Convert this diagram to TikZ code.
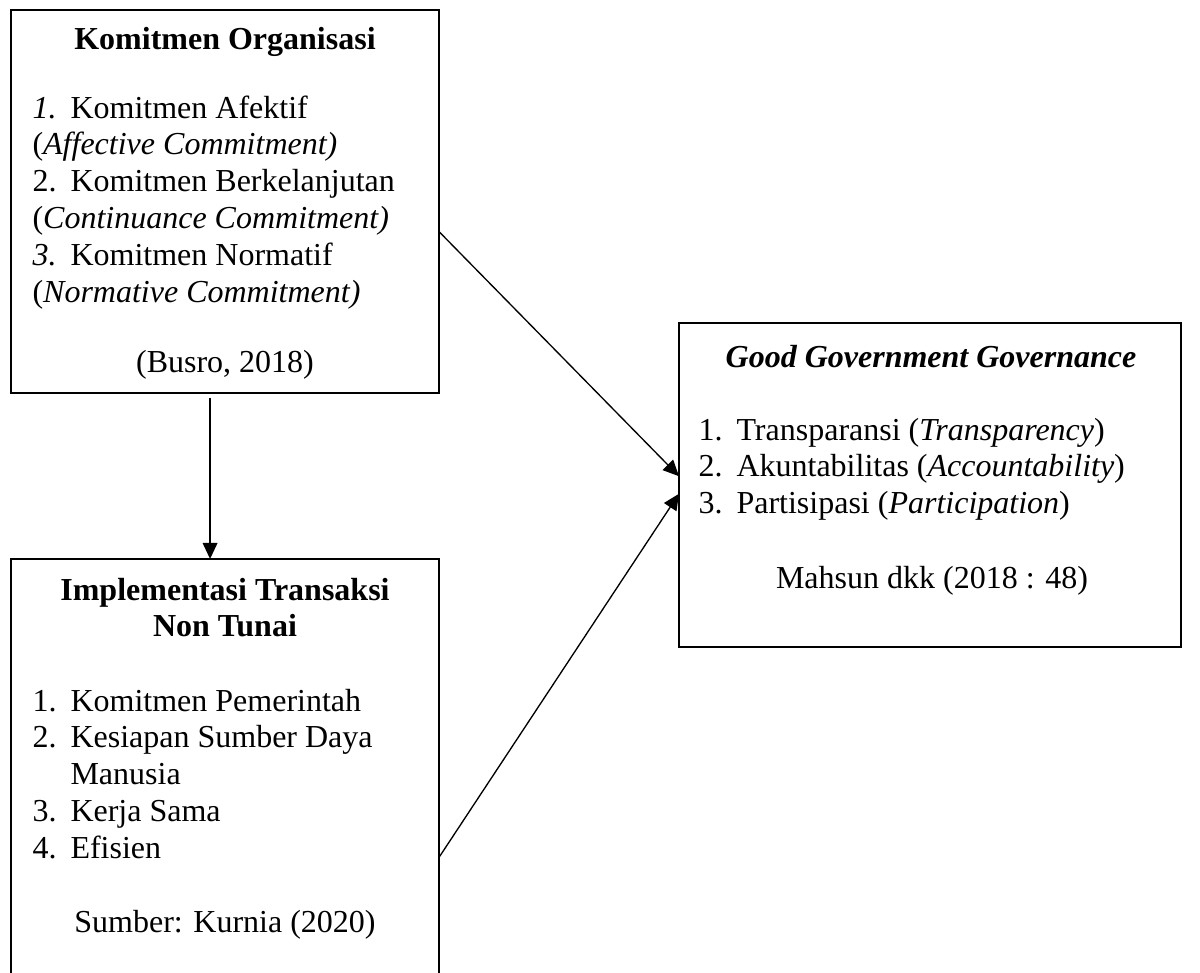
\documentclass[tikz,border=0pt]{standalone}
\usepackage{fontspec}
\setmainfont{Liberation Serif}
\usepackage{tikz}
\usetikzlibrary{arrows.meta,positioning}

\tikzset{
  kotak/.style={draw, rectangle, line width=0.9pt, outer sep=0pt},
  judul/.style={font=\fontsize{12pt}{13.8pt}\selectfont\bfseries, anchor=base, inner sep=0pt},
  daftar/.style={font=\fontsize{12pt}{13.8pt}\selectfont, anchor=base west, inner sep=0pt},
  sumber/.style={font=\fontsize{12pt}{13.8pt}\selectfont, anchor=base, inner sep=0pt},
  panah/.style={-{Triangle[length=6pt,width=5.5pt]}, line width=0.5pt}
}
\newcommand{\nomor}[1]{\makebox[14.25pt][l]{#1}}
\newcommand{\baris}[2][l]{\begin{tabular}[t]{@{}#1@{}}#2\end{tabular}}

\begin{document}
\begin{tikzpicture}[x=0.375pt, y=-0.375pt]
    \clip (0,0) rectangle (1200,972);
    % kotak variabel
    \node [kotak, minimum width=160.5pt, minimum height=143.6pt] (org) at (225,201.5) {};
    \node [kotak, minimum width=160.5pt, minimum height=165.4pt] (impl) at (225,779.5) {};
    \node [kotak, minimum width=188.25pt, minimum height=121.5pt] (ggg) at (930,485) {};

    % komitmen organisasi
    \node [judul] (orgjudul) at (225,49) {Komitmen Organisasi};
    \node [daftar] (orgdaftar) at (32,118) {\baris{\nomor{\textit{1.}}Komitmen Afektif\\(\textit{Affective Commitment)}\\\nomor{2.}Komitmen Berkelanjutan\\(\textit{Continuance Commitment)}\\\nomor{\textit{3.}}Komitmen Normatif\\(\textit{Normative Commitment)}}};
    \node [sumber] (orgsumber) at (225,372) {(Busro, 2018)};

    % implementasi transaksi non tunai
    \node [judul] (impljudul) at (225,600) {\baris[c]{Implementasi Transaksi\\Non Tunai}};
    \node [daftar] (impldaftar) at (32,711) {\baris{\nomor{1.}Komitmen Pemerintah\\\nomor{2.}Kesiapan Sumber Daya\\\nomor{}Manusia\\\nomor{3.}Kerja Sama\\\nomor{4.}Efisien}};
    \node [sumber] (implsumber) at (225,932) {Sumber: Kurnia (2020)};

    % good government governance
    \node [judul] (gggjudul) at (931,367) {\textit{Good Government Governance}};
    \node [daftar] (gggdaftar) at (698,440) {\baris{\nomor{1.}Transparansi (\textit{Transparency})\\\nomor{2.}Akuntabilitas (\textit{Accountability})\\\nomor{3.}Partisipasi (\textit{Participation})}};
    \node [sumber] (gggsumber) at (932,588) {Mahsun dkk (2018 : 48)};

    \draw [panah] (org.-8.4) -- (ggg.178.4);
    \draw [panah] (impl.-20.6) -- (ggg.-178.9);
    \draw [panah, shorten <=2pt] ([xshift=-5.6pt]org.south) -- ([xshift=-5.6pt]impl.north);
\end{tikzpicture}
\end{document}
